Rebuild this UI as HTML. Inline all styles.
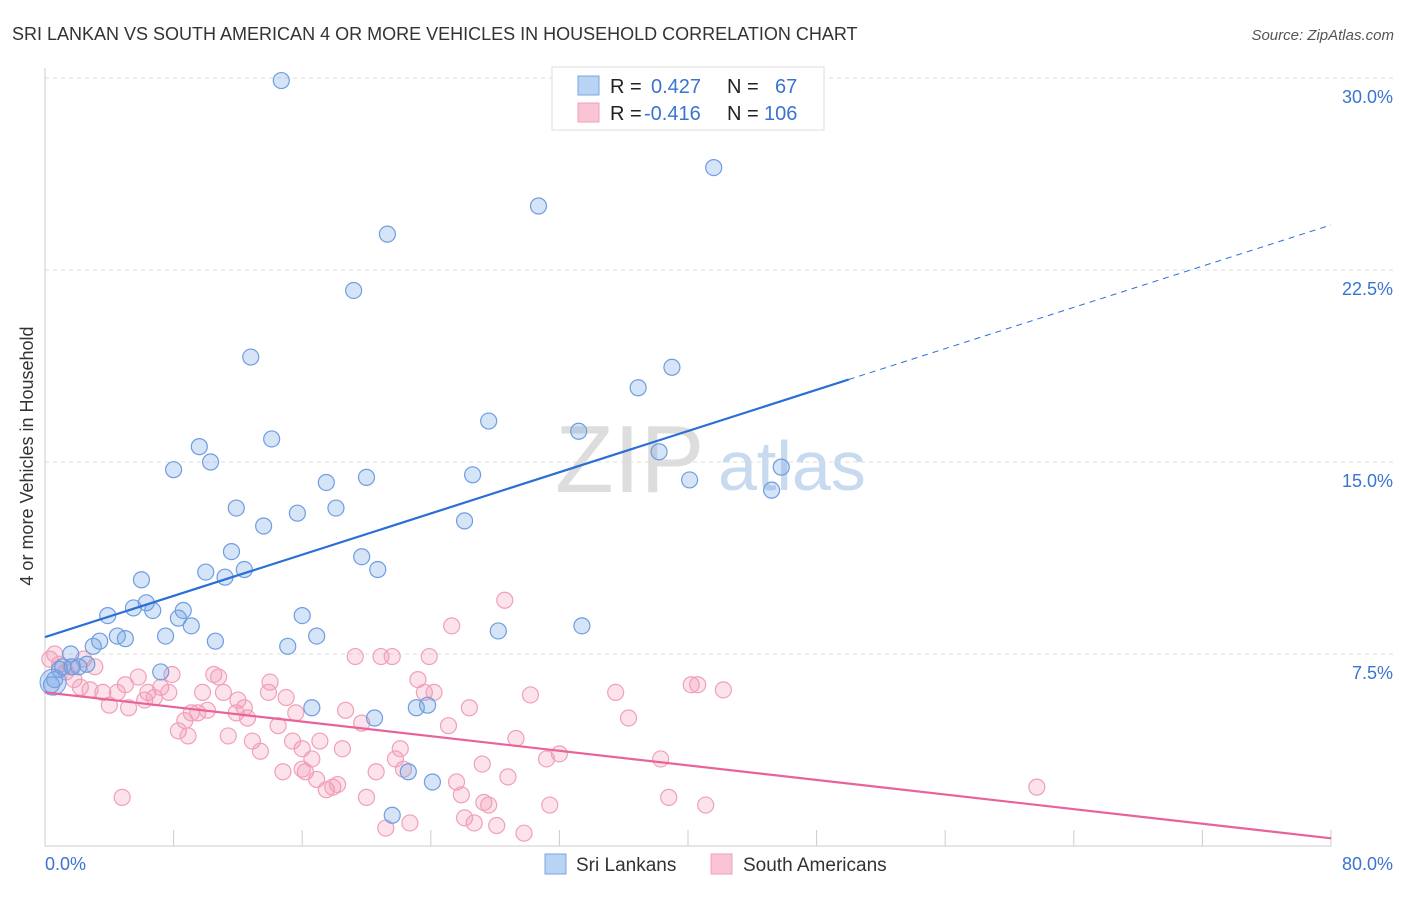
<!DOCTYPE html>
<html><head><meta charset="utf-8"><style>
body{margin:0;background:#fff;font-family:"Liberation Sans",sans-serif;}
svg text{font-family:"Liberation Sans",sans-serif;}
</style></head><body>
<svg id="chart" width="1406" height="892">
<text x="12" y="40" font-size="18" fill="#333">SRI LANKAN VS SOUTH AMERICAN 4 OR MORE VEHICLES IN HOUSEHOLD CORRELATION CHART</text>
<text x="1394" y="40" font-size="15" fill="#555" text-anchor="end" font-style="italic">Source: ZipAtlas.com</text>
<text transform="translate(33,456) rotate(-90)" font-size="18" fill="#333" text-anchor="middle">4 or more Vehicles in Household</text>
<g><text x="555" y="492" font-size="96" fill="#ddd" font-family="Liberation Serif">ZIP</text><text x="718" y="490" font-size="70" fill="#c8daf0">atlas</text></g>
<g id="grid"></g><g id="pts"></g><g id="lines"></g>
<g>
<rect x="552" y="67" width="272" height="63" fill="#fff" stroke="#ddd"/>
<rect x="578" y="76" width="21" height="19" fill="#b9d3f5" stroke="#7aa5e0"/>
<rect x="578" y="103" width="21" height="19" fill="#f9c5d5" stroke="#f0a0b8"/>
<text x="610" y="93" font-size="20" fill="#222">R = </text><text x="651" y="93" font-size="20" fill="#3a74d0">0.427</text>
<text x="727" y="93" font-size="20" fill="#222">N =</text><text x="775" y="93" font-size="20" fill="#3a74d0">67</text>
<text x="610" y="120" font-size="20" fill="#222">R = </text><text x="644" y="120" font-size="20" fill="#3a74d0">-0.416</text>
<text x="727" y="120" font-size="20" fill="#222">N =</text><text x="764" y="120" font-size="20" fill="#3a74d0">106</text>
</g>
<g>
<rect x="545" y="854" width="21" height="20" fill="#b9d3f5" stroke="#7aa5e0"/>
<text x="576" y="871" font-size="19" fill="#333">Sri Lankans</text>
<rect x="711" y="854" width="21" height="20" fill="#f9c5d5" stroke="#f0a0b8"/>
<text x="743" y="871" font-size="19" fill="#333">South Americans</text>
</g>
</svg>
<script>
const yTicks=[7.5,15,22.5,30];
const xTickLabels=["0.0%","80.0%"];
const blueX=[14.7,41.6,30.7,21.3,19.2,12.8,39.0,36.9,27.6,33.2,14.1,9.6,38.2,10.3,8.0,45.8,26.6,40.1,45.2,17.5,20.0,11.9,15.7,18.1,26.1,13.6,11.6,19.7,10.0,11.2,12.4,20.7,6.0,3.9,5.5,6.3,6.7,8.6,8.3,16.0,9.1,28.2,33.4,7.5,4.5,5.0,3.4,10.6,16.9,15.1,3.0,1.6,2.6,2.1,1.1,7.2,0.6,0.4,16.6,20.5,23.1,23.8,22.6,24.1,21.6,0.9,1.7];
const blueY=[29.9,26.5,25.0,23.9,21.7,19.1,18.7,17.9,16.6,16.2,15.9,15.6,15.4,15.0,14.7,14.8,14.5,14.3,13.9,14.2,14.4,13.2,13.0,13.2,12.7,12.5,11.5,11.3,10.7,10.5,10.8,10.8,10.4,9.0,9.3,9.5,9.2,9.2,8.9,9.0,8.6,8.4,8.6,8.2,8.2,8.1,8.0,8.0,8.2,7.8,7.8,7.5,7.1,7.0,7.0,6.8,6.5,6.3,5.4,5.0,5.4,5.5,2.9,2.5,1.2,6.9,7.0];
const pinkX=[4.8,0.6,0.3,0.9,1.6,1.3,1.8,2.2,2.8,3.1,2.4,3.6,4.0,4.5,5.2,5.0,5.8,6.4,6.8,6.2,7.2,7.7,7.9,8.7,9.1,8.3,8.9,9.5,10.1,9.8,10.5,10.8,11.1,11.4,12.0,12.4,11.9,12.6,12.9,13.4,13.9,14.0,14.5,14.8,15.0,15.4,15.6,16.0,16.2,16.6,16.9,17.1,17.5,17.9,18.2,18.5,18.7,19.3,19.7,20.0,20.6,20.9,21.6,21.2,21.8,22.1,22.7,23.2,23.6,23.9,24.2,25.1,25.3,25.6,25.9,26.4,26.1,26.7,27.3,27.6,28.1,28.6,28.8,29.3,29.8,30.2,31.2,31.4,32.0,27.2,35.5,36.3,38.3,38.8,40.2,40.6,41.1,42.2,61.7,16.0,22.3];
const pinkY=[1.9,7.5,7.3,7.1,7.0,6.8,6.5,6.2,6.1,7.0,7.3,6.0,5.5,6.0,5.4,6.3,6.6,6.0,5.8,5.7,6.2,6.0,6.7,4.9,5.2,4.5,4.3,5.2,5.3,6.0,6.7,6.6,6.0,4.3,5.7,5.4,5.2,5.0,4.1,3.7,6.0,6.4,4.7,2.9,5.8,4.1,5.2,3.8,2.9,3.4,2.6,4.1,2.2,2.3,2.4,3.8,5.3,7.4,4.8,1.9,2.9,7.4,7.4,0.7,3.4,3.8,0.9,6.5,6.0,7.4,6.0,4.7,8.6,2.5,2.0,5.4,1.1,0.9,1.7,1.6,0.8,9.6,2.7,4.2,0.5,5.9,3.4,1.6,3.6,3.2,6.0,5.0,3.4,1.9,6.3,6.3,1.6,6.1,2.3,3.0,3.0];
const blueLine=[8.16,24.26], pinkLine=[6.0,0.3];
const NS="http://www.w3.org/2000/svg";
const sx=v=>45+v/80*1286, sy=v=>846-v*25.6;
function mk(p,tag,a){const e=document.createElementNS(NS,tag);for(const k in a)e.setAttribute(k,a[k]);p.appendChild(e);return e;}
const grid=document.getElementById('grid');
yTicks.forEach(t=>{
 const l=mk(grid,'line',{x1:45,x2:1394,y1:sy(t),y2:sy(t),stroke:'#ddd','stroke-dasharray':'4,4'});
 
 
 const tx=mk(grid,'text',{x:1393,y:sy(t)+25,'font-size':18,fill:'#3a74d0','text-anchor':'end'});tx.textContent=t.toFixed(1)+'%';
 
 
});
mk(grid,'line',{x1:45,x2:45,y1:68,y2:846,stroke:'#ccc'});
mk(grid,'line',{x1:45,x2:1331,y1:846,y2:846,stroke:'#ccc'});
for(let i=0;i<=10;i++){mk(grid,'line',{x1:sx(i*8),x2:sx(i*8),y1:830,y2:846,stroke:'#ccc'});}
const xl0=mk(grid,'text',{x:45,y:870,'font-size':18,fill:'#3a74d0'});xl0.textContent=xTickLabels[0];


const xl1=mk(grid,'text',{x:1393,y:870,'font-size':18,fill:'#3a74d0','text-anchor':'end'});xl1.textContent=xTickLabels[1];


const pts=document.getElementById('pts');
pinkX.forEach((x,i)=>{const c=mk(pts,'circle',{cx:sx(x),cy:sy(pinkY[i]),r:8,fill:'rgba(244,150,180,0.28)',stroke:'#f0a0b8','stroke-width':1.2});
 
 });
blueX.forEach((x,i)=>{const c=mk(pts,'circle',{cx:sx(x),cy:sy(blueY[i]),r:8,fill:'rgba(120,165,230,0.3)',stroke:'#6e9de0','stroke-width':1.2});
 
 });
const big=mk(pts,'circle',{cx:sx(0.5),cy:sy(6.4),r:13,fill:'rgba(120,165,230,0.35)',stroke:'#6e9de0'});


const lines=document.getElementById('lines');
const by=x=>blueLine[0]+(blueLine[1]-blueLine[0])*x/80;
const bl=mk(lines,'line',{x1:sx(0),y1:sy(by(0)),x2:sx(50),y2:sy(by(50)),stroke:'#2a6fd6','stroke-width':2.2});


const bd=mk(lines,'line',{x1:sx(50),y1:sy(by(50)),x2:sx(80),y2:sy(by(80)),stroke:'#2a6fd6','stroke-width':1,'stroke-dasharray':'6,5'});


const pl=mk(lines,'line',{x1:sx(0),y1:sy(pinkLine[0]),x2:sx(80),y2:sy(pinkLine[1]),stroke:'#e8639a','stroke-width':2.2});


</script>
</body></html>
